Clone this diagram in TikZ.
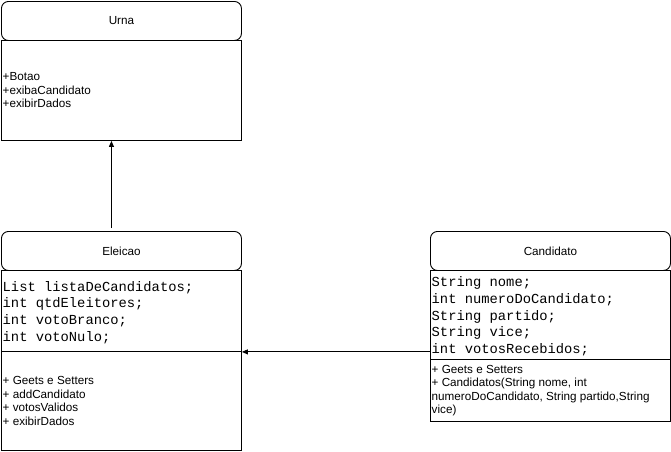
\documentclass[tikz,border=0pt]{standalone}
\usepackage{fontspec}
\setmainfont{Liberation Sans}
\newfontfamily\monof{Liberation Mono}
\usetikzlibrary{arrows.meta}
\begin{document}
\begin{tikzpicture}[x=1pt,y=-1pt,
  titlebox/.style={draw, line width=0.9pt, rounded corners=7pt, minimum width=240pt, minimum height=39pt, anchor=north west, inner sep=0pt, font=\fontsize{11.7}{13.5}\selectfont},
  bodybox/.style={draw, line width=0.9pt, minimum width=240pt, anchor=north west, inner sep=0pt},
  sanstxt/.style={anchor=west, align=left, inner sep=0pt, font=\fontsize{11.7}{13.5}\selectfont},
  monotxt/.style={anchor=west, align=left, inner sep=0pt, font=\fontsize{13.8}{16.7}\monof},
  arr/.style={line width=0.9pt, -{Triangle[length=6pt,width=5pt]}}
]
\useasboundingbox (0,0) rectangle (671,451);
% Urna
\node[titlebox] (urnaT) at (1,1) {Urna};
\node[bodybox, minimum height=100pt] (urnaB) at (1,40) {};
\node[sanstxt] (urnaM) at ([xshift=1.5pt]urnaB.west) {+Botao\\+exibaCandidato\\+exibirDados};
% Eleicao
\node[titlebox] (eleT) at (1,231) {Eleicao};
\node[bodybox, minimum height=81pt] (eleA) at (1,270) {};
\node[monotxt] (eleAt) at ([xshift=1.5pt,yshift=-1.5pt]eleA.west) {List listaDeCandidatos;\\int qtdEleitores;\\int votoBranco;\\int votoNulo;};
\node[bodybox, minimum height=99pt] (eleM) at (1,351) {};
\node[sanstxt] (eleMt) at ([xshift=1.5pt]eleM.west) {+ Geets e Setters\\+ addCandidato\\+ votosValidos\\+ exibirDados};
% Candidato
\node[titlebox] (canT) at (430,231) {Candidato};
\node[bodybox, minimum height=89pt] (canA) at (430,270) {};
\node[monotxt] (canAt) at ([xshift=1.5pt,yshift=-1.5pt]canA.west) {String nome;\\int numeroDoCandidato;\\String partido;\\String vice;\\int votosRecebidos;};
\node[bodybox, minimum height=62pt] (canM) at (430,359) {};
\node[sanstxt] (canMt) at ([xshift=1.5pt]canM.west) {+ Geets e Setters\\+ Candidatos(String nome, int\\numeroDoCandidato, String partido,String\\vice)};
% connectors
\draw[arr] ([xshift=-10pt,yshift=3pt]eleT.north) -- ([xshift=-10pt]urnaB.south);
\draw[arr] ([yshift=8pt]canA.south west) -- (eleA.south east);
\end{tikzpicture}
\end{document}
